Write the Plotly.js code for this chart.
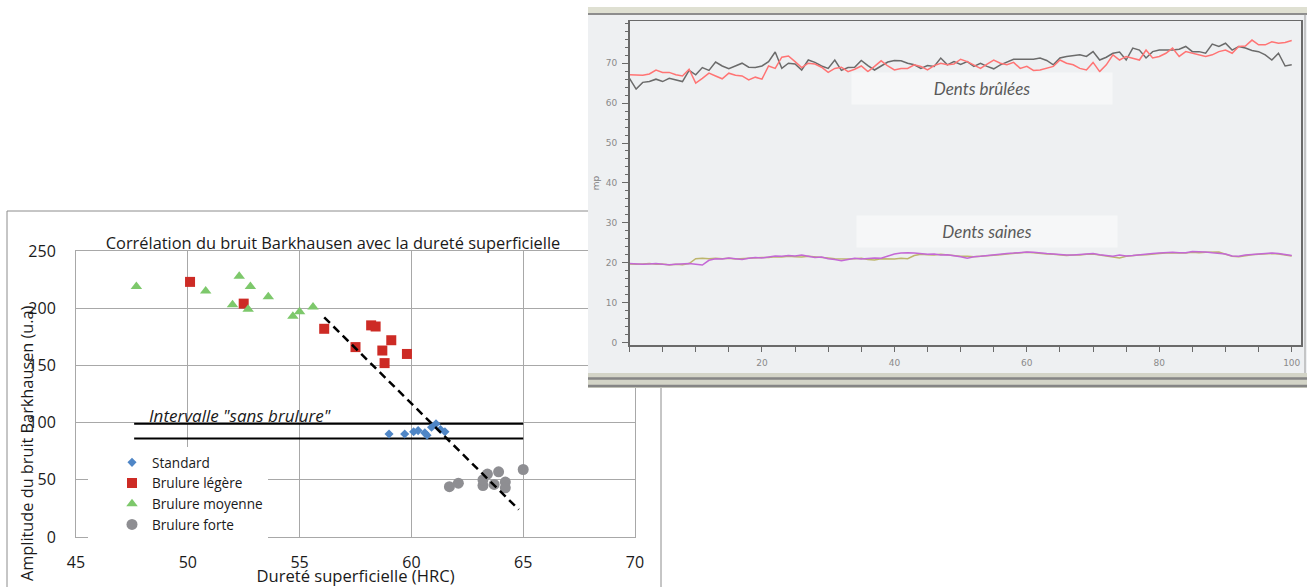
<!DOCTYPE html>
<html><head><meta charset="utf-8">
<script src="https://cdn.plot.ly/plotly-3.0.1.min.js"></script>
<style>html,body{margin:0;padding:0;background:#fff}#chart{width:1307px;height:587px}</style>
</head><body><div id="chart"></div>
<script>
// ---------- Left chart: Barkhausen vs hardness ----------
const standard_hrc = [59.0, 59.7, 60.1, 60.3, 60.6, 60.7, 60.9, 61.1, 61.3, 61.5];
const standard_amp = [90, 90, 92, 93, 91, 89, 96, 99, 94, 92];
const legere_hrc = [50.1, 52.5, 56.1, 57.5, 58.2, 58.4, 59.1, 58.7, 58.8, 59.8];
const legere_amp = [223, 204, 182, 166, 185, 184, 172, 163, 152, 160];
const moyenne_hrc = [47.7, 50.8, 52.3, 52.8, 52.0, 52.7, 53.6, 54.7, 55.0, 55.6];
const moyenne_amp = [219, 215, 228, 219, 203, 199, 210, 193, 197, 201];
const forte_hrc = [61.7, 62.1, 63.2, 63.2, 63.4, 63.9, 63.7, 64.2, 64.2, 65.0];
const forte_amp = [44, 47, 45, 50, 55, 57, 46, 48, 43, 59];
const tendance_hrc = [56.1, 64.8];
const tendance_amp = [192, 24];
const intervalle_hrc = [47.6, 65.0];
const intervalle_bornes = [86, 99];
const series_names = ['Standard', 'Brulure légère', 'Brulure moyenne', 'Brulure forte'];
const x_ticks_left = [45, 50, 55, 60, 65, 70];
const y_ticks_left = [0, 50, 100, 150, 200, 250];

// ---------- Right chart: signal per tooth ----------
const indice = [0,1,2,3,4,5,6,7,8,9,10,11,12,13,14,15,16,17,18,19,20,21,22,23,24,25,26,27,28,29,30,31,32,33,34,35,36,37,38,39,40,41,42,43,44,45,46,47,48,49,50,51,52,53,54,55,56,57,58,59,60,61,62,63,64,65,66,67,68,69,70,71,72,73,74,75,76,77,78,79,80,81,82,83,84,85,86,87,88,89,90,91,92,93,94,95,96,97,98,99,100];
const brulees_gris = [66.2,63.5,65.2,65.4,66.0,65.4,66.2,65.8,65.4,68.2,
 67.1,68.9,68.2,70.3,69.3,68.6,69.2,70.0,69.0,68.9,
 69.3,70.4,72.8,68.7,70.0,69.8,68.3,70.8,70.2,69.3,
 68.7,70.8,68.2,68.9,69.0,70.7,69.4,68.3,69.3,70.3,
 70.7,70.6,70.0,69.6,68.7,69.4,69.2,71.3,69.6,70.4,
 69.7,70.4,69.2,70.0,69.2,68.6,69.6,70.3,71.0,71.0,
 71.0,71.0,71.3,70.7,69.6,71.3,71.7,71.9,72.1,71.7,
 72.9,70.8,71.5,72.5,72.8,70.8,73.8,73.3,71.3,72.9,
 73.3,73.3,73.3,73.5,74.2,72.9,72.9,72.5,74.8,74.2,
 75.0,73.3,74.2,73.8,73.2,72.9,72.1,70.8,72.5,69.3,
 69.6];
const brulees_rouge = [67.1,67.1,67.0,67.3,68.3,67.7,67.7,67.1,66.8,68.5,
 65.0,66.2,67.5,66.8,66.1,67.5,67.0,66.8,65.8,66.5,
 66.0,69.3,68.7,71.5,71.8,70.4,68.9,70.0,69.8,69.0,
 67.7,68.7,69.0,67.9,68.5,69.3,67.9,69.2,70.6,69.3,
 68.3,68.7,68.7,69.6,69.2,68.3,69.4,70.0,69.6,69.8,
 71.0,70.4,69.6,68.7,69.8,70.8,70.0,69.6,70.2,68.7,
 69.2,68.2,68.3,68.7,69.2,70.8,70.0,69.6,68.7,68.3,
 70.2,67.9,69.6,72.1,70.8,71.7,71.3,70.8,73.3,71.3,
 71.7,72.5,73.8,71.7,72.9,72.5,72.1,71.7,72.1,72.9,
 73.3,72.5,74.2,74.3,75.8,74.6,74.6,75.4,75.0,75.2,
 75.7];
const saines_violet = [19.8,19.7,19.6,19.7,19.8,19.6,19.5,19.6,19.7,19.8,
 19.6,19.4,20.6,21.0,20.9,21.2,21.0,20.8,21.1,21.3,
 21.2,21.5,21.7,21.6,21.8,21.7,21.9,21.6,21.3,21.4,
 21.0,20.8,20.5,20.8,21.1,20.9,21.0,21.2,21.1,21.6,
 22.2,22.4,22.5,22.4,22.2,22.1,22.2,21.9,22.0,21.8,
 21.5,21.1,21.5,21.6,21.8,22.0,22.1,22.3,22.4,22.5,
 22.7,22.6,22.4,22.3,22.2,22.0,21.9,21.9,22.0,22.2,
 22.3,22.0,21.8,21.6,21.9,21.7,21.8,22.0,22.1,22.3,
 22.4,22.5,22.6,22.5,22.5,22.8,22.8,22.7,22.5,22.4,
 22.2,21.7,21.6,21.9,22.1,22.2,22.3,22.4,22.3,22.0,
 21.8];
const saines_olive = [19.7,19.6,19.7,19.8,19.6,19.7,19.4,19.6,19.5,19.8,
 21.0,21.1,21.0,21.1,21.0,21.1,20.9,21.0,21.2,21.2,
 21.3,21.3,21.5,21.4,21.6,21.5,21.4,21.6,21.5,21.3,
 21.2,21.0,20.9,20.9,21.0,21.1,20.8,20.7,21.0,21.0,
 20.9,21.1,21.0,21.8,22.1,22.0,21.9,22.1,21.9,21.8,
 21.6,21.6,21.5,21.6,21.7,21.9,22.0,22.2,22.3,22.4,
 22.6,22.5,22.3,22.2,22.1,21.9,21.8,21.9,21.9,22.1,
 22.2,21.9,21.7,21.5,21.2,21.6,21.8,21.9,22.0,22.2,
 22.3,22.4,22.5,22.4,22.4,22.6,22.5,22.6,22.6,22.7,
 22.1,21.6,21.5,21.8,22.0,22.1,22.2,22.3,22.2,21.9,
 21.7];
const x_ticks_right = [20, 40, 60, 80, 100];
const y_ticks_right = [0, 10, 20, 30, 40, 50, 60, 70];

// ---------- helpers (pixel -> paper) ----------
const W = 1307, H = 587;
const px = v => v / W;
const py = v => 1 - v / H;
// frame subplot local coords (panel from x 588..1307, y 0..388)
const fx = v => (v - 588) / 719;
const fy = v => (388 - v) / 388;

const FL = '"Open Sans", Lato, sans-serif';
const FR = 'Lato, "Open Sans", sans-serif';
const INK = '#1a1a1a';

const traces = [];
const markerStyles = [
  {symbol: 'diamond', size: 7, color: '#4f86c6'},
  {symbol: 'square', size: 10, color: '#cd2b25'},
  {symbol: 'triangle-up', size: 10, color: '#7dc86b'},
  {symbol: 'circle', size: 11, color: '#8e8e92'}
];
const xs = [standard_hrc, legere_hrc, moyenne_hrc, forte_hrc];
const ys = [standard_amp, legere_amp, moyenne_amp, forte_amp];
intervalle_bornes.forEach(b => traces.push({
  type: 'scatter', mode: 'lines', x: intervalle_hrc, y: [b, b],
  line: {color: '#000', width: 2}, showlegend: false, hoverinfo: 'skip', xaxis: 'x', yaxis: 'y'
}));
series_names.forEach((n, i) => traces.push({
  type: 'scatter', mode: 'markers', name: n, x: xs[i], y: ys[i],
  marker: Object.assign({line: {width: 0}}, markerStyles[i]), xaxis: 'x', yaxis: 'y'
}));
traces.push({
  type: 'scatter', mode: 'lines', x: tendance_hrc, y: tendance_amp,
  line: {color: '#000', width: 2.5, dash: '8px,5px'}, showlegend: false, hoverinfo: 'skip', xaxis: 'x', yaxis: 'y'
});
// frame subplot (empty)
traces.push({type: 'scatter', mode: 'markers', x: [], y: [], xaxis: 'x2', yaxis: 'y2', showlegend: false, hoverinfo: 'skip'});
// right chart lines
[[brulees_gris, '#6b6b6b'], [brulees_rouge, '#ff7474'], [saines_olive, '#bdb56c'], [saines_violet, '#c468d6']].forEach(([s, c]) =>
  traces.push({type: 'scatter', mode: 'lines', x: indice, y: s, line: {color: c, width: 1.5},
    showlegend: false, hoverinfo: 'skip', xaxis: 'x3', yaxis: 'y3'}));

const RAX = '#6a6a6a';
const layout = {
  width: W, height: H,
  margin: {l: 0, r: 0, t: 0, b: 0, pad: 0},
  paper_bgcolor: '#ffffff', plot_bgcolor: 'rgba(0,0,0,0)',
  showlegend: true,
  title: {text: 'Corrélation du bruit Barkhausen avec la dureté superficielle',
    x: px(333), xref: 'paper', xanchor: 'center', y: py(243), yref: 'paper', yanchor: 'middle',
    font: {family: FL, size: 16.4, color: INK}},
  legend: {x: px(88), y: py(447), xanchor: 'left', yanchor: 'top', bgcolor: '#ffffff', borderwidth: 0,
    indentation: 24, entrywidth: 180, font: {family: FL, size: 13.6, color: INK}, tracegroupgap: 0},
  xaxis: {domain: [px(76), px(635)], range: [45, 70], tickmode: 'array', tickvals: x_ticks_left, anchor: 'y',
    showgrid: true, gridcolor: '#a8a8a8', gridwidth: 1, showline: true, linecolor: '#a8a8a8', linewidth: 1, mirror: true,
    zeroline: false, ticks: '', ticklabelstandoff: 11, tickfont: {family: FL, size: 16, color: INK},
    title: {text: 'Dureté superficielle (HRC)', font: {family: FL, size: 16.6, color: INK}, standoff: 3}, fixedrange: true},
  yaxis: {domain: [py(537), py(251)], range: [0, 250], tickmode: 'array', tickvals: y_ticks_left, anchor: 'x',
    showgrid: true, gridcolor: '#a8a8a8', gridwidth: 1, showline: true, linecolor: '#a8a8a8', linewidth: 1, mirror: true,
    zeroline: false, ticks: '', ticklabelstandoff: 16, tickfont: {family: FL, size: 16, color: INK}, fixedrange: true},
  xaxis2: {domain: [px(588), 1], range: [0, 1], anchor: 'y2', visible: false, fixedrange: true},
  yaxis2: {domain: [py(388), 1], range: [0, 1], anchor: 'x2', visible: false, fixedrange: true},
  xaxis3: {domain: [px(629.5), px(1301)], range: [0, 101.4], anchor: 'y3', showline: true, mirror: true,
    linecolor: RAX, linewidth: 1.5, showgrid: false, zeroline: false, ticks: 'outside', ticklen: 5, tickwidth: 1,
    tickcolor: RAX, tickmode: 'array', tickvals: x_ticks_right, ticklabelstandoff: 4,
    minor: {tickmode: 'linear', tick0: 0, dtick: 5, ticks: 'outside', ticklen: 5, tickcolor: RAX, showgrid: false},
    tickfont: {family: 'DejaVu Sans', size: 9, color: '#8a8a8a'}, fixedrange: true},
  yaxis3: {domain: [py(345), py(21)], range: [-0.63, 80.58], anchor: 'x3', showline: true, mirror: true,
    linecolor: RAX, linewidth: 1.5, showgrid: false, zeroline: false, ticks: 'outside', ticklen: 6, tickwidth: 1,
    tickcolor: RAX, tickmode: 'array', tickvals: y_ticks_right, ticklabelstandoff: 3,
    minor: {tickmode: 'linear', tick0: 0, dtick: 2, ticks: 'outside', ticklen: 3.5, tickcolor: RAX, showgrid: false},
    tickfont: {family: 'DejaVu Sans', size: 9, color: '#8a8a8a'},
    title: {text: 'mp', font: {family: 'DejaVu Sans', size: 9, color: '#7a7a7a'}, standoff: 4}, fixedrange: true},
  shapes: [
    // left chart outer frame
    {type: 'rect', xref: 'paper', yref: 'paper', x0: px(7), x1: px(661), y0: -0.1, y1: py(211),
      line: {color: '#8c8c8c', width: 1}, layer: 'below'},
    // right panel (screenshot frame)
    {type: 'rect', xref: 'x2', yref: 'y2', x0: 0, x1: 1, y0: fy(373), y1: fy(14), fillcolor: '#eef0f2', line: {width: 0}, layer: 'below'},
    {type: 'rect', xref: 'x2', yref: 'y2', x0: 0, x1: 1, y0: fy(14), y1: fy(7), fillcolor: '#dfe0d2', line: {width: 0}, layer: 'below'},
    {type: 'rect', xref: 'x2', yref: 'y2', x0: 0, x1: 1, y0: fy(7), y1: 1, fillcolor: '#ffffff', line: {width: 0}, layer: 'below'},
    {type: 'line', xref: 'x2', yref: 'y2', x0: 0, x1: 1, y0: fy(14), y1: fy(14), line: {color: '#8d8d8d', width: 2}, layer: 'below'},
    {type: 'rect', xref: 'x2', yref: 'y2', x0: 0, x1: 1, y0: 0, y1: fy(373), fillcolor: '#d3d4c7', line: {width: 0}, layer: 'below'},
    {type: 'line', xref: 'x2', yref: 'y2', x0: 0, x1: 1, y0: fy(378.5), y1: fy(378.5), line: {color: '#858585', width: 2.5}, layer: 'below'},
    {type: 'line', xref: 'x2', yref: 'y2', x0: 0, x1: 1, y0: fy(386), y1: fy(386), line: {color: '#858585', width: 2.5}, layer: 'below'},
    {type: 'line', xref: 'x2', yref: 'y2', x0: fx(1305), x1: fx(1305), y0: fy(373), y1: fy(14), line: {color: '#9a9a9a', width: 1}, layer: 'below'}
  ],
  annotations: [
    {xref: 'paper', yref: 'paper', x: px(27), y: py(443), xanchor: 'center', yanchor: 'middle', textangle: -90,
      text: 'Amplitude du bruit Barkhausen (u.a)', showarrow: false, font: {family: FL, size: 16.3, color: INK}},
    {xref: 'paper', yref: 'paper', x: px(147), y: py(415), xanchor: 'left', yanchor: 'middle',
      text: '<i>Intervalle "sans brulure"</i>', showarrow: false, font: {family: FL, size: 17, color: INK}},
    {xref: 'paper', yref: 'paper', x: px(982), y: py(88.5), xanchor: 'center', yanchor: 'middle',
      width: 260, height: 31, borderpad: 0, bgcolor: '#f6f7f8',
      text: '<i>Dents brûlées</i>', showarrow: false, font: {family: FR, size: 17, color: '#5a5a5a'}},
    {xref: 'paper', yref: 'paper', x: px(987), y: py(231.5), xanchor: 'center', yanchor: 'middle',
      width: 260, height: 31, borderpad: 0, bgcolor: '#f6f7f8',
      text: '<i>Dents saines</i>', showarrow: false, font: {family: FR, size: 17, color: '#5a5a5a'}}
  ]
};
Plotly.newPlot('chart', traces, layout, {staticPlot: true, displayModeBar: false});
</script>
</body></html>
